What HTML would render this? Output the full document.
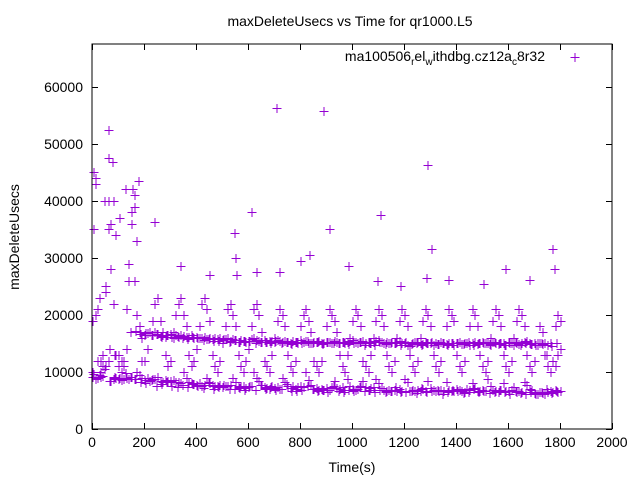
<!DOCTYPE html>
<html><head><meta charset="utf-8"><style>
body{margin:0;background:#fff}
svg{display:block;font-family:"Liberation Sans",sans-serif}
</style></head><body>
<svg id="chart" width="640" height="480">
<rect x="0" y="0" width="640" height="480" fill="#fff"/>
<text x="350" y="26" text-anchor="middle" font-size="14">maxDeleteUsecs vs Time for qr1000.L5</text>
<text x="19" y="237" text-anchor="middle" font-size="14" transform="rotate(-90 19 237)">maxDeleteUsecs</text>
<text x="352" y="472" text-anchor="middle" font-size="14">Time(s)</text>
<g id="ticks"></g>
<g id="points"></g>
<rect x="92" y="44" width="520" height="385" fill="none" stroke="#000" stroke-width="1"/>
<g>
<text x="545" y="61" text-anchor="end" font-size="14">ma100506<tspan font-size="10" dy="4">r</tspan><tspan dy="-4">el</tspan><tspan font-size="10" dy="4">w</tspan><tspan dy="-4">ithdbg.cz12a</tspan><tspan font-size="10" dy="4">c</tspan><tspan dy="-4">8r32</tspan></text>
<path d="M570.5 57.5h9M575 53v9" stroke="#9400d3" stroke-width="1"/>
</g>
</svg>
<script>
// values in thousands of usecs, sampled every 10 s from t=0
const xTicks=[0,200,400,600,800,1000,1200,1400,1600,1800,2000];
const yTicks=[0,10000,20000,30000,40000,50000,60000];
const lowBand=[9.2,8.8,9.0,9.1,9.3,11,12,8.5,8.7,9.0,
8.8,8.6,8.7,9.0,8.7,9.1,8.8,10,9.5,9.0,
8.6,8.9,8.5,8.8,8.7,9.2,8.5,8.3,8.6,8.4,
8.4,8.6,8.3,8.2,8.0,10,9.0,8.2,8.1,7.9,
7.8,8.0,7.6,7.8,9,8.0,7.8,7.5,7.6,7.7,
7.4,7.6,7.5,7.7,9,8.2,7.3,7.5,7.6,7.2,
7.3,7.6,10,9,8.5,7.8,7.4,7.2,7.0,7.5,
7.2,7.4,7.0,9,8.3,7.6,7.2,7.5,7.1,7.3,
7.6,7.3,10,8.6,7.8,7.0,7.2,6.8,7.1,6.9,
7.2,6.9,7.4,8.5,7.2,7.0,7.3,6.9,8.8,7.6,
7.1,6.9,7.0,7.6,8.4,7.3,6.9,7.2,7.4,8.8,
8,7.2,6.9,6.7,6.8,6.6,6.9,6.7,7.0,6.6,
8.8,8.2,6.7,6.9,6.6,6.8,6.7,7.1,6.6,8.5,
7.2,6.8,6.6,6.7,6.9,6.6,8.2,6.8,6.7,6.6,
7.0,6.8,6.6,6.5,7.0,6.8,8.0,7.2,6.6,6.7,
6.9,6.6,8.8,7.5,6.8,6.6,6.5,6.9,8.0,6.7,
6.6,6.8,7.3,6.5,6.6,6.4,8.2,7.8,7.0,6.9,
6.3,6.2,6.4,6.3,6.2,6.5,6.6,6.4,6.8,6.5,6.6];
const midBand=[19,44,21,12,11,25,40,36,40,34,
13,12,11,14,29,38,39,33,17,16,
16.5,16.8,17,16.5,17,16.6,16.3,16.5,16.2,16.4,
16.6,16.0,16.4,16.2,16.5,16.3,16.1,16.2,16.4,16.0,
16.2,15.9,16.0,16.1,15.8,16.0,15.7,16.0,15.8,15.9,
15.6,15.8,15.9,15.5,15.7,15.6,15.3,15.6,15.4,15.2,
15.5,15.7,16.0,15.6,15.5,15.3,15.6,15.2,15.4,15.5,
15.3,15.6,15.4,15.2,15.5,15.3,15.1,15.4,15.2,15.3,
15.6,15.2,15.4,15.0,15.1,15.3,15.2,15.4,15.1,15.0,
15.3,15.2,15.0,15.4,15.2,15.1,15.3,15.0,15.2,15.4,
15.6,15.3,15.1,15.2,15.4,15.1,15.3,15.0,15.2,15.4,
15.6,15.3,15.0,15.2,15.1,15.3,15.0,15.2,15.4,15.1,
15.0,14.8,14.6,15.1,15.3,15.2,15.0,14.9,15.2,15.1,
15.0,14.8,15.1,14.9,15.2,15.0,14.9,15.1,15.0,14.8,
15.0,15.2,14.9,15.0,15.1,14.8,15.0,15.2,14.9,15.1,
15.3,15.1,15.0,14.8,15.2,15.0,14.9,15.1,15.0,14.8,
15.2,15.0,14.8,15.1,14.9,15.0,15.2,15.4,15.0,14.9,
15.1,14.8,15.0,14.9,15.1,14.8,15.0,12,11,13,14];
const streakBand=[10,20,12,10,13,24,35,28,22,13,
11,10,12,21,26,36,26,20,18,12,
12,14,17,19,22,23,19,17,13,11,
12,17,20,22,23,20,18,13,11,12,
14,18,22,23,21,19,13,11,10,12,
15,18,21,22,20,18,13,11,10,12,
14,18,21,22,20,17,12,11,10,13,
16,19,21,20,18,13,11,10,12,15,
18,20,21,19,17,12,11,10,12,15,
18,21,20,19,17,13,11,10,13,16,
19,21,20,18,12,11,10,13,16,19,
21,20,18,13,11,10,12,16,19,21,
20,18,13,11,10,12,16,19,21,20,
18,13,11,10,12,15,18,21,20,19,
13,11,10,12,15,18,21,20,18,13,
11,10,12,16,19,21,20,18,13,11,
10,12,16,19,21,20,18,13,11,10,
12,15,18,17,13,11,10,12,18,20,19];
// extra samples at 20 s steps starting t=5
const lowBand2=[9.6,9.4,10.5,8.4,9.2,8.9,9.8,9.1,8.8,8.2,
8.0,8.6,7.6,7.9,8.3,7.5,7.4,7.8,7.3,7.9,
7.6,7.2,8.2,7.0,7.4,7.8,7.1,7.0,7.2,6.8,
7.5,6.8,7.8,7.1,7.4,6.9,7.0,7.9,6.7,6.6,
6.8,7.5,7.0,6.6,6.9,6.5,7.6,6.7,6.4,6.8,
6.6,7.3,6.6,6.9,6.5,6.8,6.4,6.7,7.4,6.5,
6.5,6.7,6.3,7.2,6.4,6.6,6.8,6.2,6.5,6.9,
6.6,6.3,6.5,7.1,6.4,6.6,6.3,6.5,6.8,6.4,
6.2,6.6,6.3,6.1,6.4,6.2,6.5,7.0,6.3,6.6];
const midBand2=[35,23,40,14,13,37,42,17,17.2,16.6,
16.9,16.4,16.7,16.2,16.5,16.1,16.3,16.0,15.7,16.2,
15.9,15.6,15.8,15.4,15.5,15.7,15.3,15.6,15.2,15.4,
15.5,15.1,15.3,15.2,15.0,15.4,15.1,15.3,14.9,15.2,
15.0,15.4,15.1,15.2,14.9,15.3,15.1,15.0,15.2,14.9,
15.1,15.3,14.7,15.0,14.8,15.2,14.9,15.1,15.0,14.8,
15.2,14.9,15.0,14.8,15.1,15.2,14.9,15.0,14.8,15.1,
15.0,14.9,15.2,14.8,15.1,15.0,14.9,15.2,15.0,14.7,
15.0,15.2,14.8,15.1,14.9,14.7,15.0,13,14.5,15];
const outlierTimes=[706,890,63,1288,60,75,5,12,175,155,160,612,1107,910,545,240,1305,1770,835,550,800,985,1590,1775,340,450,630,1370,1283,1505,1680,1185,720,1095,555];
const outlierValues=[56.3,55.8,52.5,46.3,47.5,46.8,45,43,43.5,42,41,38,37.5,35,34.3,36.3,31.5,31.5,30.5,30,29.5,28.5,28,28,28.5,27,27.5,26.2,26.5,25.5,26.2,25,27.5,26,27];

const NS="http://www.w3.org/2000/svg";
const X0=92,X1=612,Y0=429,YTOP=44,XMAX=2000,YMAX=67500;
function sx(t){return X0+t/XMAX*(X1-X0);}
function sy(v){return Y0-v/YMAX*(Y0-YTOP);}
const tg=document.getElementById('ticks');
xTicks.forEach(t=>{
  const x=Math.round(sx(t))+0.5;
  const p=document.createElementNS(NS,'path');
  p.setAttribute('d',`M${x} ${Y0}v-6M${x} ${YTOP}v6`);
  p.setAttribute('stroke','#000');
  
  
  tg.appendChild(p);
  const tx=document.createElementNS(NS,'text');
  tx.setAttribute('x',sx(t));tx.setAttribute('y',Y0+18);
  tx.setAttribute('text-anchor','middle');tx.setAttribute('font-size','14');
  tx.textContent=t;
  
  
  tg.appendChild(tx);
});
yTicks.forEach(v=>{
  const y=Math.round(sy(v))+0.5;
  const p=document.createElementNS(NS,'path');
  p.setAttribute('d',`M${X0} ${y}h6M${X1} ${y}h-6`);
  p.setAttribute('stroke','#000');
  
  
  tg.appendChild(p);
  const tx=document.createElementNS(NS,'text');
  tx.setAttribute('x',X0-9);tx.setAttribute('y',sy(v)+5);
  tx.setAttribute('text-anchor','end');tx.setAttribute('font-size','14');
  tx.textContent=v;
  
  
  tg.appendChild(tx);
});
let d='';
function addPt(t,v){const x=Math.round(sx(t))+0.5,y=Math.round(sy(v*1000))+0.5;d+=`M${x-4} ${y}h9M${x+0.5} ${y-4.5}v9`;}
[lowBand,midBand,streakBand].forEach(arr=>arr.forEach((v,i)=>addPt(i*10,v)));
[lowBand2,midBand2].forEach(arr=>arr.forEach((v,i)=>addPt(5+i*20,v)));
outlierTimes.forEach((t,i)=>addPt(t,outlierValues[i]));
const pts=document.createElementNS(NS,'path');
pts.setAttribute('d',d);
pts.setAttribute('stroke','#9400d3');
pts.setAttribute('stroke-width','1');
pts.setAttribute('fill','none');


document.getElementById('points').appendChild(pts);
</script>
</body></html>
